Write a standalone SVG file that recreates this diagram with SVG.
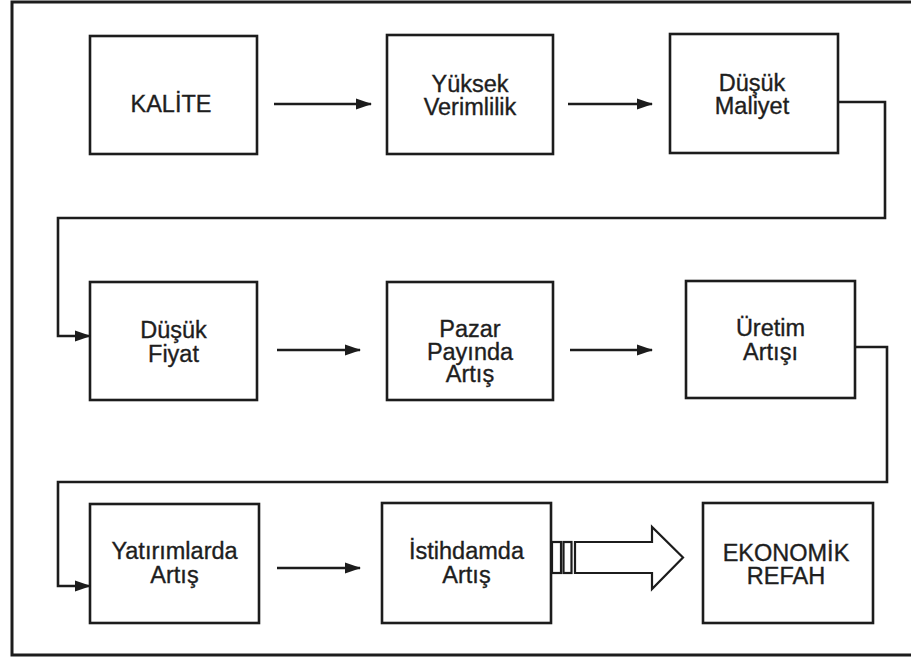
<svg xmlns="http://www.w3.org/2000/svg" width="911" height="660" viewBox="0 0 911 660">
<style>
.box{fill:#fff;stroke:#1c1c1c;stroke-width:2.6}
.t{font-family:"Liberation Sans",Arial,sans-serif;font-size:23.5px;fill:#1e1e1e;stroke:#1e1e1e;stroke-width:0.35;text-anchor:middle}
.c{fill:none;stroke:#1c1c1c;stroke-width:2.6}
.big{fill:#fff;stroke:#1c1c1c;stroke-width:2.2;stroke-linejoin:miter}
</style>
<defs>
<marker id="ah" markerUnits="userSpaceOnUse" markerWidth="16" markerHeight="12" refX="15" refY="6" orient="auto">
<path d="M0,0.5 L16,6 L0,11.5 Z" fill="#1c1c1c"/>
</marker>
</defs>
<rect x="0" y="0" width="911" height="660" fill="#fff"/>
<path d="M912,2 H12 V655 H912" fill="none" stroke="#1c1c1c" stroke-width="3"/>
<g id="n1"><rect class="box" x="90" y="36" width="167" height="118"/><text class="t" x="171" y="112">KALİTE</text></g>
<g id="n2"><rect class="box" x="387" y="35" width="166" height="119"/><text class="t" x="470" y="92">Yüksek</text><text class="t" x="470" y="115">Verimlilik</text></g>
<g id="n3"><rect class="box" x="670" y="34" width="168" height="119"/><text class="t" x="752" y="91">Düşük</text><text class="t" x="752" y="114">Maliyet</text></g>
<g id="n4"><rect class="box" x="90" y="282" width="167" height="118"/><text class="t" x="173.5" y="338">Düşük</text><text class="t" x="173.5" y="362">Fiyat</text></g>
<g id="n5"><rect class="box" x="387" y="282" width="166" height="118"/><text class="t" x="470" y="337">Pazar</text><text class="t" x="470" y="360">Payında</text><text class="t" x="470" y="382">Artış</text></g>
<g id="n6"><rect class="box" x="686" y="281" width="169" height="117"/><text class="t" x="770.5" y="335.5">Üretim</text><text class="t" x="770.5" y="359.5">Artışı</text></g>
<g id="n7"><rect class="box" x="90" y="504" width="169" height="119"/><text class="t" x="174.5" y="559">Yatırımlarda</text><text class="t" x="174.5" y="583">Artış</text></g>
<g id="n8"><rect class="box" x="382" y="503" width="169" height="120"/><text class="t" x="466.5" y="559">İstihdamda</text><text class="t" x="466.5" y="583">Artış</text></g>
<g id="n9"><rect class="box" x="703" y="503" width="170" height="120"/><text class="t" x="786" y="561">EKONOMİK</text><text class="t" x="786" y="584">REFAH</text></g>
<g id="connectors">
<path class="c" d="M274,104 H371" marker-end="url(#ah)"/>
<path class="c" d="M568,104 H652" marker-end="url(#ah)"/>
<path class="c" d="M838,102 H885 V218 H58 V336 H90" marker-end="url(#ah)"/>
<path class="c" d="M277,350 H360" marker-end="url(#ah)"/>
<path class="c" d="M570,350 H652" marker-end="url(#ah)"/>
<path class="c" d="M855,347 H887 V482 H58 V586 H90" marker-end="url(#ah)"/>
<path class="c" d="M277,568 H360" marker-end="url(#ah)"/>
<rect class="big" x="552" y="542" width="9" height="31"/>
<rect class="big" x="563.5" y="542" width="8" height="31"/>
<path class="big" d="M575,542 H652 V527 L683,557.5 L652,589 V573 H575 Z"/>
</g>
</svg>
